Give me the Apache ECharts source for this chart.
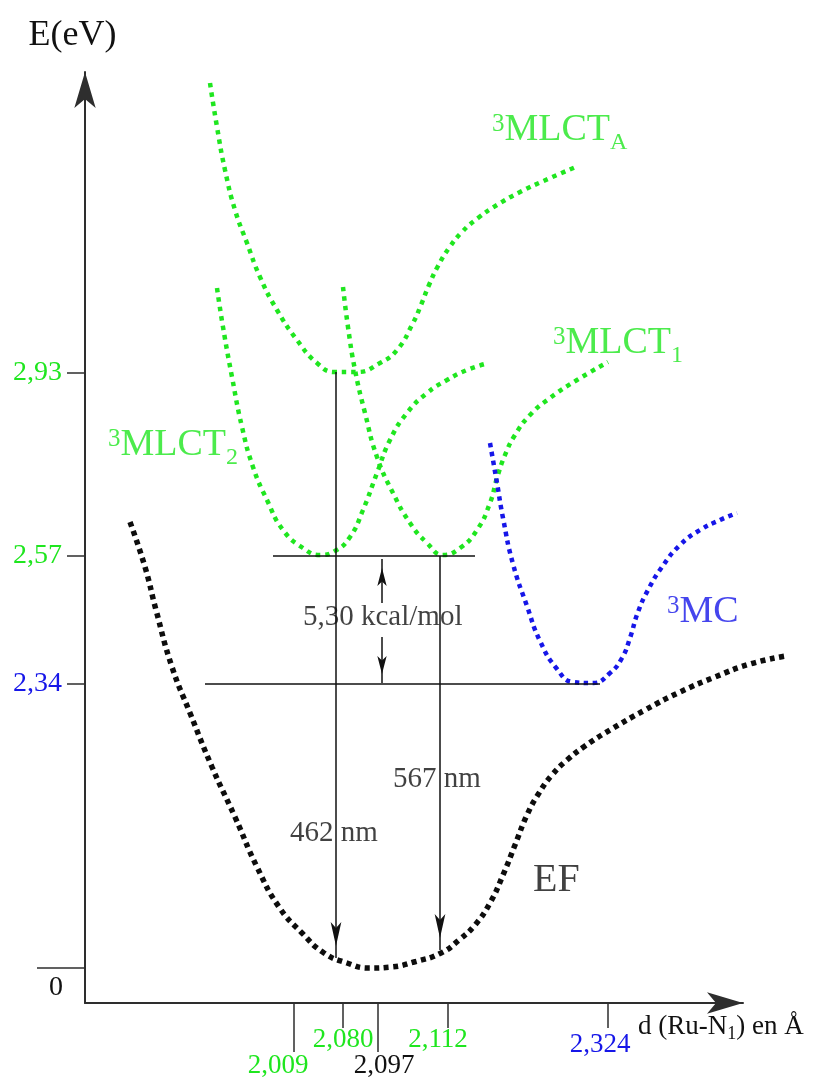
<!DOCTYPE html>
<html>
<head>
<meta charset="utf-8">
<title>Ru-N1 potential energy curves</title>
<script src="https://cdn.jsdelivr.net/npm/echarts@6/dist/echarts.min.js"></script>
<style>
html, body { margin: 0; padding: 0; background: #fff; }
#diagram { width: 813px; height: 1081px; }
</style>
</head>
<body>
<div id="diagram"></div>
<script>
// schematic units: x grows right from the E axis, y grows up from the d axis
var curveMLCTA = [[125,920],[132,876],[140,833],[150,793],[162,760],[175,726],[192,693],[212,663],[232,640],[250,631],[272,631],[295,640],[312,653],[328,680],[336,698],[344,718],[353,737],[364,755],[377,771],[393,785],[412,798],[435,811],[463,824],[493,837]];
var curveMLCT2 = [[132,715],[138,676],[147,626],[157,576],[168,536],[182,503],[198,473],[218,455],[235,448],[250,452],[265,466],[278,493],[292,530],[305,563],[322,590],[342,610],[362,623],[382,633],[400,639]];
var curveMLCT1 = [[258,716],[263,676],[270,633],[280,590],[292,546],[308,510],[325,480],[342,460],[358,448],[375,455],[392,473],[405,500],[412,525],[420,548],[430,568],[445,588],[465,605],[492,623],[523,641]];
var curveMC = [[405,560],[412,520],[418,485],[428,439],[442,397],[455,362],[472,334],[488,321],[508,320],[525,330],[537,345],[545,365],[553,391],[563,413],[577,436],[595,458],[615,473],[635,483],[652,490]];
var curveEF = [[45,481],[60,436],[71,393],[87,336],[105,290],[127,236],[150,186],[172,136],[194,96],[217,70],[239,50],[262,40],[284,35],[306,36],[329,41],[356,50],[374,63],[390,78],[405,100],[418,128],[430,158],[442,188],[454,210],[467,228],[482,243],[500,257],[525,273],[560,293],[595,311],[630,326],[665,339],[701,347]];

var levelLines = [[[188,447],[390,447]], [[120,319],[515,319]]];
var emissionArrows = [[[251,631],[251,45]], [[355,447],[355,53]]];
var gapArrows = [[[297,400],[297,444]], [[297,366],[297,320]]];

var yTickPos = [319, 447, 630];
var yTickText = ['2,34', '2,57', '2,93'];
var yZeroPos = [35];
var yZeroText = ['0'];
var xShortPos = [258, 363, 523];
var xShortText = ['2,080', '2,112', '2,324'];
var xLongPos = [209, 293];
var xLongText = ['2,009', '2,097'];

var stateText = ['{sup|3}MLCT{sub|A}', '{sup|3}MLCT{sub|1}', '{sup|3}MLCT{sub|2}', '{sup|3}MC', 'EF'];
var statePos = [[407,873], [468,660], [23,558], [582,391], [448,123]];
var noteText = ['462 nm', '567 nm', '5,30 kcal/mol'];
var notePos = [[205,170], [308,224], [218,386]];

var GREEN = '#1fe61f';
var BLUE = '#1616e8';
var INK = '#111111';
var AXIS = '#2e2e2e';
var SERIF = '"Liberation Serif", "DejaVu Serif", serif';

var chart = echarts.init(document.getElementById('diagram'), null, { renderer: 'canvas' });

var stateColor = [GREEN, GREEN, GREEN, BLUE, INK];
var yTickStyle = ['b', 'g', 'g'];
var xShortStyle = ['g', 'gl', 'b'];
var xLongStyle = ['gL', 'k'];

var tickRich = {
	g: { color: GREEN, fontSize: 27, fontFamily: SERIF },
	gl: { color: GREEN, fontSize: 27, fontFamily: SERIF, padding: [0, 20, 0, 0] },
	gL: { color: GREEN, fontSize: 27, fontFamily: SERIF, padding: [0, 32, 0, 0] },
	k: { color: INK, fontSize: 27, fontFamily: SERIF, padding: [0, 0, 0, 12] },
	b: { color: BLUE, fontSize: 27, fontFamily: SERIF, padding: [5, 16, 0, 0] }
};
var yRich = {
	g: { color: GREEN, fontSize: 28, fontFamily: SERIF },
	b: { color: BLUE, fontSize: 28, fontFamily: SERIF }
};

function tickFormatter(pos, text, keys) {
	return function (v) {
		var i = pos.indexOf(v);
		if (i < 0) return '';
		return '{' + keys[i] + '|' + text[i] + '}';
	};
}

function dotted(name, data, color, width, dash) {
	return {
		name: name,
		type: 'line',
		xAxisIndex: 0,
		yAxisIndex: 0,
		data: data,
		smooth: true,
		symbol: 'none',
		clip: false,
		silent: true,
		lineStyle: { color: color, width: width, type: dash, cap: 'butt' }
	};
}

function arrowEnd(p, size) {
	return { coord: p, symbol: 'arrow', symbolSize: size, symbolOffset: [0, size[1] / 2] };
}
function plainEnd(p) {
	return { coord: p, symbol: 'none' };
}

var markData = [];
levelLines.forEach(function (l) { markData.push([plainEnd(l[0]), plainEnd(l[1])]); });
emissionArrows.forEach(function (l) { markData.push([plainEnd(l[0]), arrowEnd(l[1], [8, 24])]); });
gapArrows.forEach(function (l) { markData.push([plainEnd(l[0]), arrowEnd(l[1], [7, 18])]); });

var efSeries = dotted('EF', curveEF, '#0d0d0d', 5.5, [5, 4.5]);
efSeries.markLine = {
	silent: true,
	animation: false,
	label: { show: false },
	lineStyle: { color: INK, width: 1.5, type: 'solid' },
	emphasis: { disabled: true },
	data: markData
};

var stateData = stateText.map(function (t, i) {
	return {
		value: statePos[i],
		label: {
			formatter: t,
			color: stateColor[i],
			fontSize: t === 'EF' ? 40 : 38
		}
	};
});
var noteData = noteText.map(function (t, i) {
	return { value: notePos[i], label: { formatter: t } };
});

var option = {
	animation: false,
	backgroundColor: '#ffffff',
	textStyle: { fontFamily: SERIF },
	grid: [
		{ left: 85, top: 72, width: 728, height: 931, containLabel: false, outerBoundsMode: 'none' },
		{ left: 85, top: 72, width: 658, height: 931, containLabel: false, outerBoundsMode: 'none' }
	],
	xAxis: [
		{ gridIndex: 0, type: 'value', min: 0, max: 728, show: false },
		{
			gridIndex: 1, type: 'value', min: 0, max: 658, position: 'bottom',
			axisLine: { show: true, onZero: false, symbol: ['none', 'arrow'], symbolSize: [16, 36], lineStyle: { color: AXIS, width: 2 } },
			axisTick: { show: true, customValues: xShortPos, length: 25, lineStyle: { color: AXIS, width: 1.5 } },
			axisLabel: { show: true, customValues: xShortPos, margin: 23, fontSize: 27, fontFamily: SERIF, formatter: tickFormatter(xShortPos, xShortText, xShortStyle), rich: tickRich },
			splitLine: { show: false },
			name: 'd (Ru-N{sub|1}) en Å',
			nameLocation: 'end',
			nameGap: -105,
			nameTextStyle: {
				color: INK, fontSize: 27, fontFamily: SERIF, padding: [48, 0, 0, 0],
				rich: { sub: { fontSize: 18, fontFamily: SERIF, color: INK, padding: [14, 0, 0, 0] } }
			}
		},
		{
			gridIndex: 1, type: 'value', min: 0, max: 658, position: 'bottom',
			axisLine: { show: false, onZero: false },
			axisTick: { show: true, customValues: xLongPos, length: 49, lineStyle: { color: AXIS, width: 1.5 } },
			axisLabel: { show: true, customValues: xLongPos, margin: 49, fontSize: 27, fontFamily: SERIF, formatter: tickFormatter(xLongPos, xLongText, xLongStyle), rich: tickRich },
			splitLine: { show: false }
		}
	],
	yAxis: [
		{ gridIndex: 0, type: 'value', min: 0, max: 931, show: false },
		{
			gridIndex: 1, type: 'value', min: 0, max: 931, position: 'left',
			axisLine: { show: true, onZero: false, symbol: ['none', 'arrow'], symbolSize: [16, 36], lineStyle: { color: AXIS, width: 2 } },
			axisTick: { show: true, customValues: yTickPos, length: 18, lineStyle: { color: AXIS, width: 1.5 } },
			axisLabel: { show: true, customValues: yTickPos, margin: 23, fontSize: 28, fontFamily: SERIF, formatter: tickFormatter(yTickPos, yTickText, yTickStyle), rich: yRich },
			splitLine: { show: false },
			name: 'E(eV)',
			nameLocation: 'end',
			nameGap: 18,
			nameTextStyle: { color: INK, fontSize: 36, fontFamily: SERIF, padding: [0, 25, 0, 0] }
		},
		{
			gridIndex: 1, type: 'value', min: 0, max: 931, position: 'left',
			axisLine: { show: false, onZero: false },
			axisTick: { show: true, customValues: yZeroPos, length: 48, lineStyle: { color: AXIS, width: 1.5 } },
			axisLabel: { show: true, customValues: yZeroPos, margin: 22, verticalAlign: 'top', padding: [6, 0, 0, 0], fontSize: 28, fontFamily: SERIF, color: INK, formatter: function (v) { return yZeroText[yZeroPos.indexOf(v)] || ''; } },
			splitLine: { show: false }
		}
	],
	series: [
		dotted('3MLCT_A', curveMLCTA, GREEN, 4.5, [4.5, 5]),
		dotted('3MLCT_2', curveMLCT2, GREEN, 4.5, [4.5, 5]),
		dotted('3MLCT_1', curveMLCT1, GREEN, 4.5, [4.5, 5]),
		dotted('3MC', curveMC, BLUE, 4.5, [4.5, 4.5]),
		efSeries,
		{
			name: 'states',
			type: 'scatter',
			xAxisIndex: 0,
			yAxisIndex: 0,
			symbolSize: 0,
			silent: true,
			clip: false,
			data: stateData,
			label: {
				show: true,
				position: [0, 0],
				align: 'left',
				verticalAlign: 'middle',
				fontFamily: SERIF,
				rich: {
					sup: { fontSize: 25, fontFamily: SERIF, padding: [0, 0, 11, 0] },
					sub: { fontSize: 24, fontFamily: SERIF, padding: [25, 0, 0, 0] }
				}
			}
		},
		{
			name: 'notes',
			type: 'scatter',
			xAxisIndex: 0,
			yAxisIndex: 0,
			symbolSize: 0,
			silent: true,
			clip: false,
			data: noteData,
			label: {
				show: true,
				position: [0, 0],
				align: 'left',
				verticalAlign: 'middle',
				color: INK,
				fontSize: 29,
				fontFamily: SERIF
			}
		}
	]
};

chart.setOption(option);
</script>
</body>
</html>
